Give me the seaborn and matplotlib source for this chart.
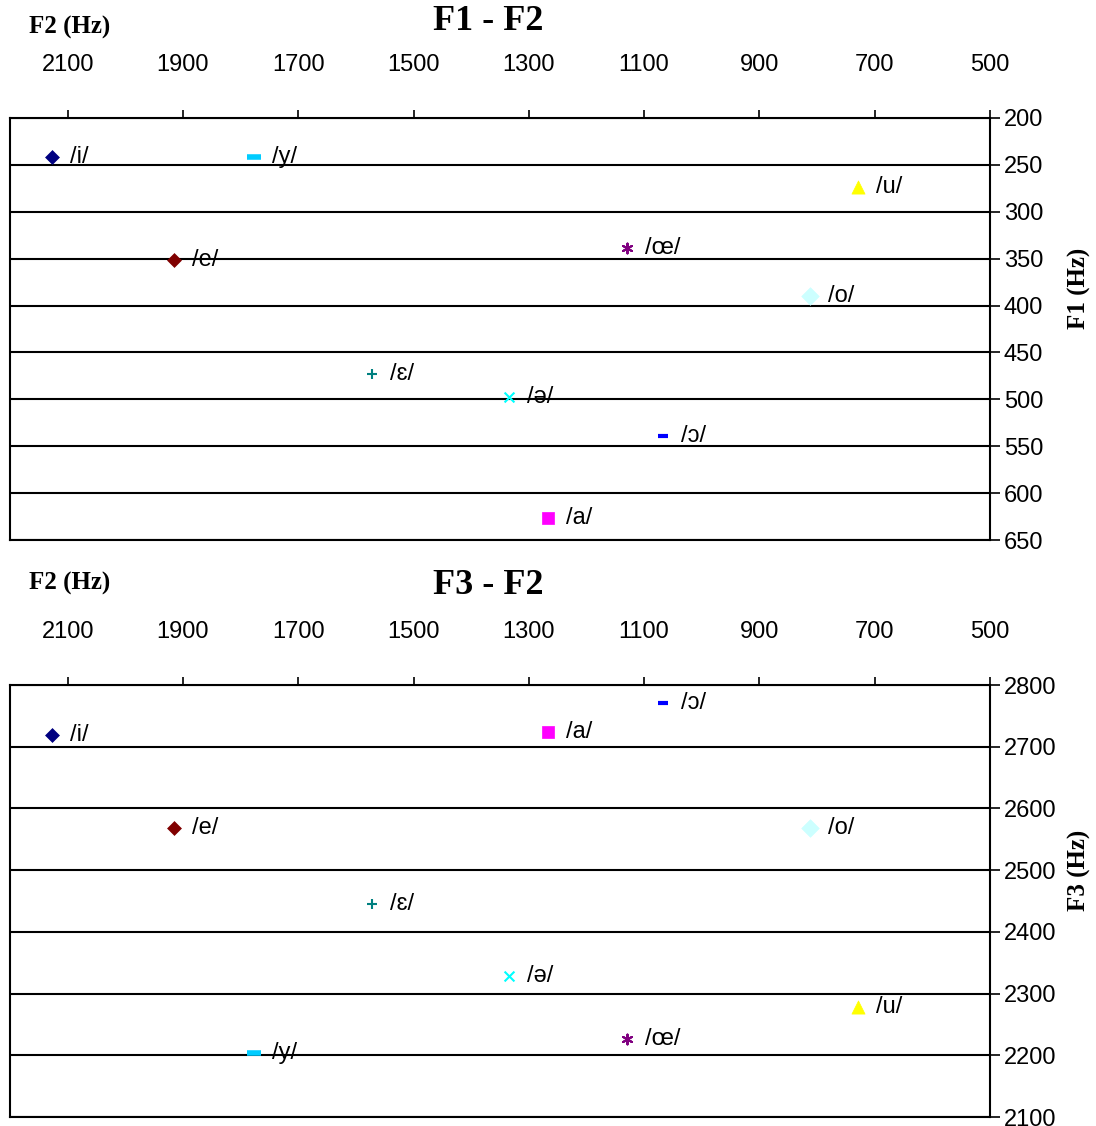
import matplotlib.pyplot as plt
import matplotlib.ticker as ticker
import seaborn as sns

vowels = ["/i/", "/y/", "/u/", "/œ/", "/e/", "/o/", "/ɛ/", "/ə/", "/ɔ/", "/a/"]
f1 = [242, 242, 274, 339, 351, 390, 473, 497, 539, 627]
f2 = [2127, 1776, 729, 1130, 1915, 812, 1572, 1334, 1068, 1266]
f3 = [2719, 2203, 2279, 2227, 2568, 2568, 2445, 2329, 2771, 2724]

colors = ["#000080", "#00ccff", "#ffff00", "#800080", "#800000",
          "#ccffff", "#008080", "#00ffff", "#0000ff", "#ff00ff"]
markers = ["D", "_", "^", (6, 2, 0), "D", "D", "+", "x", "_", "s"]
sizes = [50, 110, 90, 50, 50, 80, 60, 50, 50, 80]
widths = [0, 4, 0, 1.5, 0, 0, 1.5, 1.5, 3, 0]

f2_ticks = [2100, 1900, 1700, 1500, 1300, 1100, 900, 700, 500]

sns.set_theme(style="white")
plt.rcParams["font.family"] = ["Liberation Sans", "DejaVu Sans"]
plt.rcParams["text.color"] = "black"

fig = plt.figure(figsize=(10.96, 11.26), dpi=100)
ax_top = fig.add_axes([10 / 1096, 1 - 540 / 1126, 980 / 1096, 422 / 1126])
ax_bot = fig.add_axes([10 / 1096, 1 - 1117 / 1126, 980 / 1096, 432 / 1126])


def draw_panel(ax, yvals, ylim, ystep, ylabel, label_y):
    for i, v in enumerate(vowels):
        kws = dict(marker=markers[i], color=colors[i], s=sizes[i], linewidth=widths[i])
        if markers[i] in ("D", "^", "s"):
            kws["edgecolor"] = colors[i]
            kws["linewidth"] = 0.5
        sns.scatterplot(x=[f2[i]], y=[yvals[i]], ax=ax, zorder=3, **kws)
        ax.annotate(v, (f2[i], yvals[i]), xytext=(13, 0), textcoords="offset points",
                    ha="left", va="center", fontsize=17, zorder=4)

    ax.set_xlim(2200, 500)
    ax.set_ylim(*ylim)
    ax.xaxis.set_major_locator(ticker.FixedLocator(f2_ticks))
    ax.yaxis.set_major_locator(ticker.MultipleLocator(ystep))
    ax.xaxis.tick_top()
    ax.yaxis.tick_right()
    ax.tick_params(axis="x", direction="out", length=6, width=1.2, pad=24,
                   labelsize=17, colors="black", top=True, bottom=False)
    ax.tick_params(axis="y", direction="out", length=7, width=1.2, pad=3,
                   labelsize=17, colors="black", right=True, left=False)
    ax.grid(axis="y", color="black", linewidth=1.5)
    ax.grid(axis="x", visible=False)
    for side in ax.spines.values():
        side.set_visible(True)
        side.set_color("black")
        side.set_linewidth(1.5)
    ax.set_xlabel("")
    ax.yaxis.set_label_position("right")
    ax.set_ylabel(ylabel, fontsize=18, fontweight="bold", family="Liberation Serif",
                  color="black")
    ax.yaxis.set_label_coords(1.080, label_y)


draw_panel(ax_top, f1, (650, 200), 50, "F1 (Hz)", 0.597)
draw_panel(ax_bot, f3, (2100, 2800), 100, "F3 (Hz)", 0.572)

for y_title, y_lab, title in [(22, 27, "F1 - F2"), (585, 583, "F3 - F2")]:
    fig.text(488 / 1096, 1 - y_title / 1126, title, ha="center", va="center",
             fontsize=26, fontweight="bold", family="Liberation Serif")
    fig.text(70 / 1096, 1 - y_lab / 1126, "F2 (Hz)", ha="center", va="center",
             fontsize=18, fontweight="bold", family="Liberation Serif")

fig.savefig("out.png", dpi=100)
plt.close("all")
